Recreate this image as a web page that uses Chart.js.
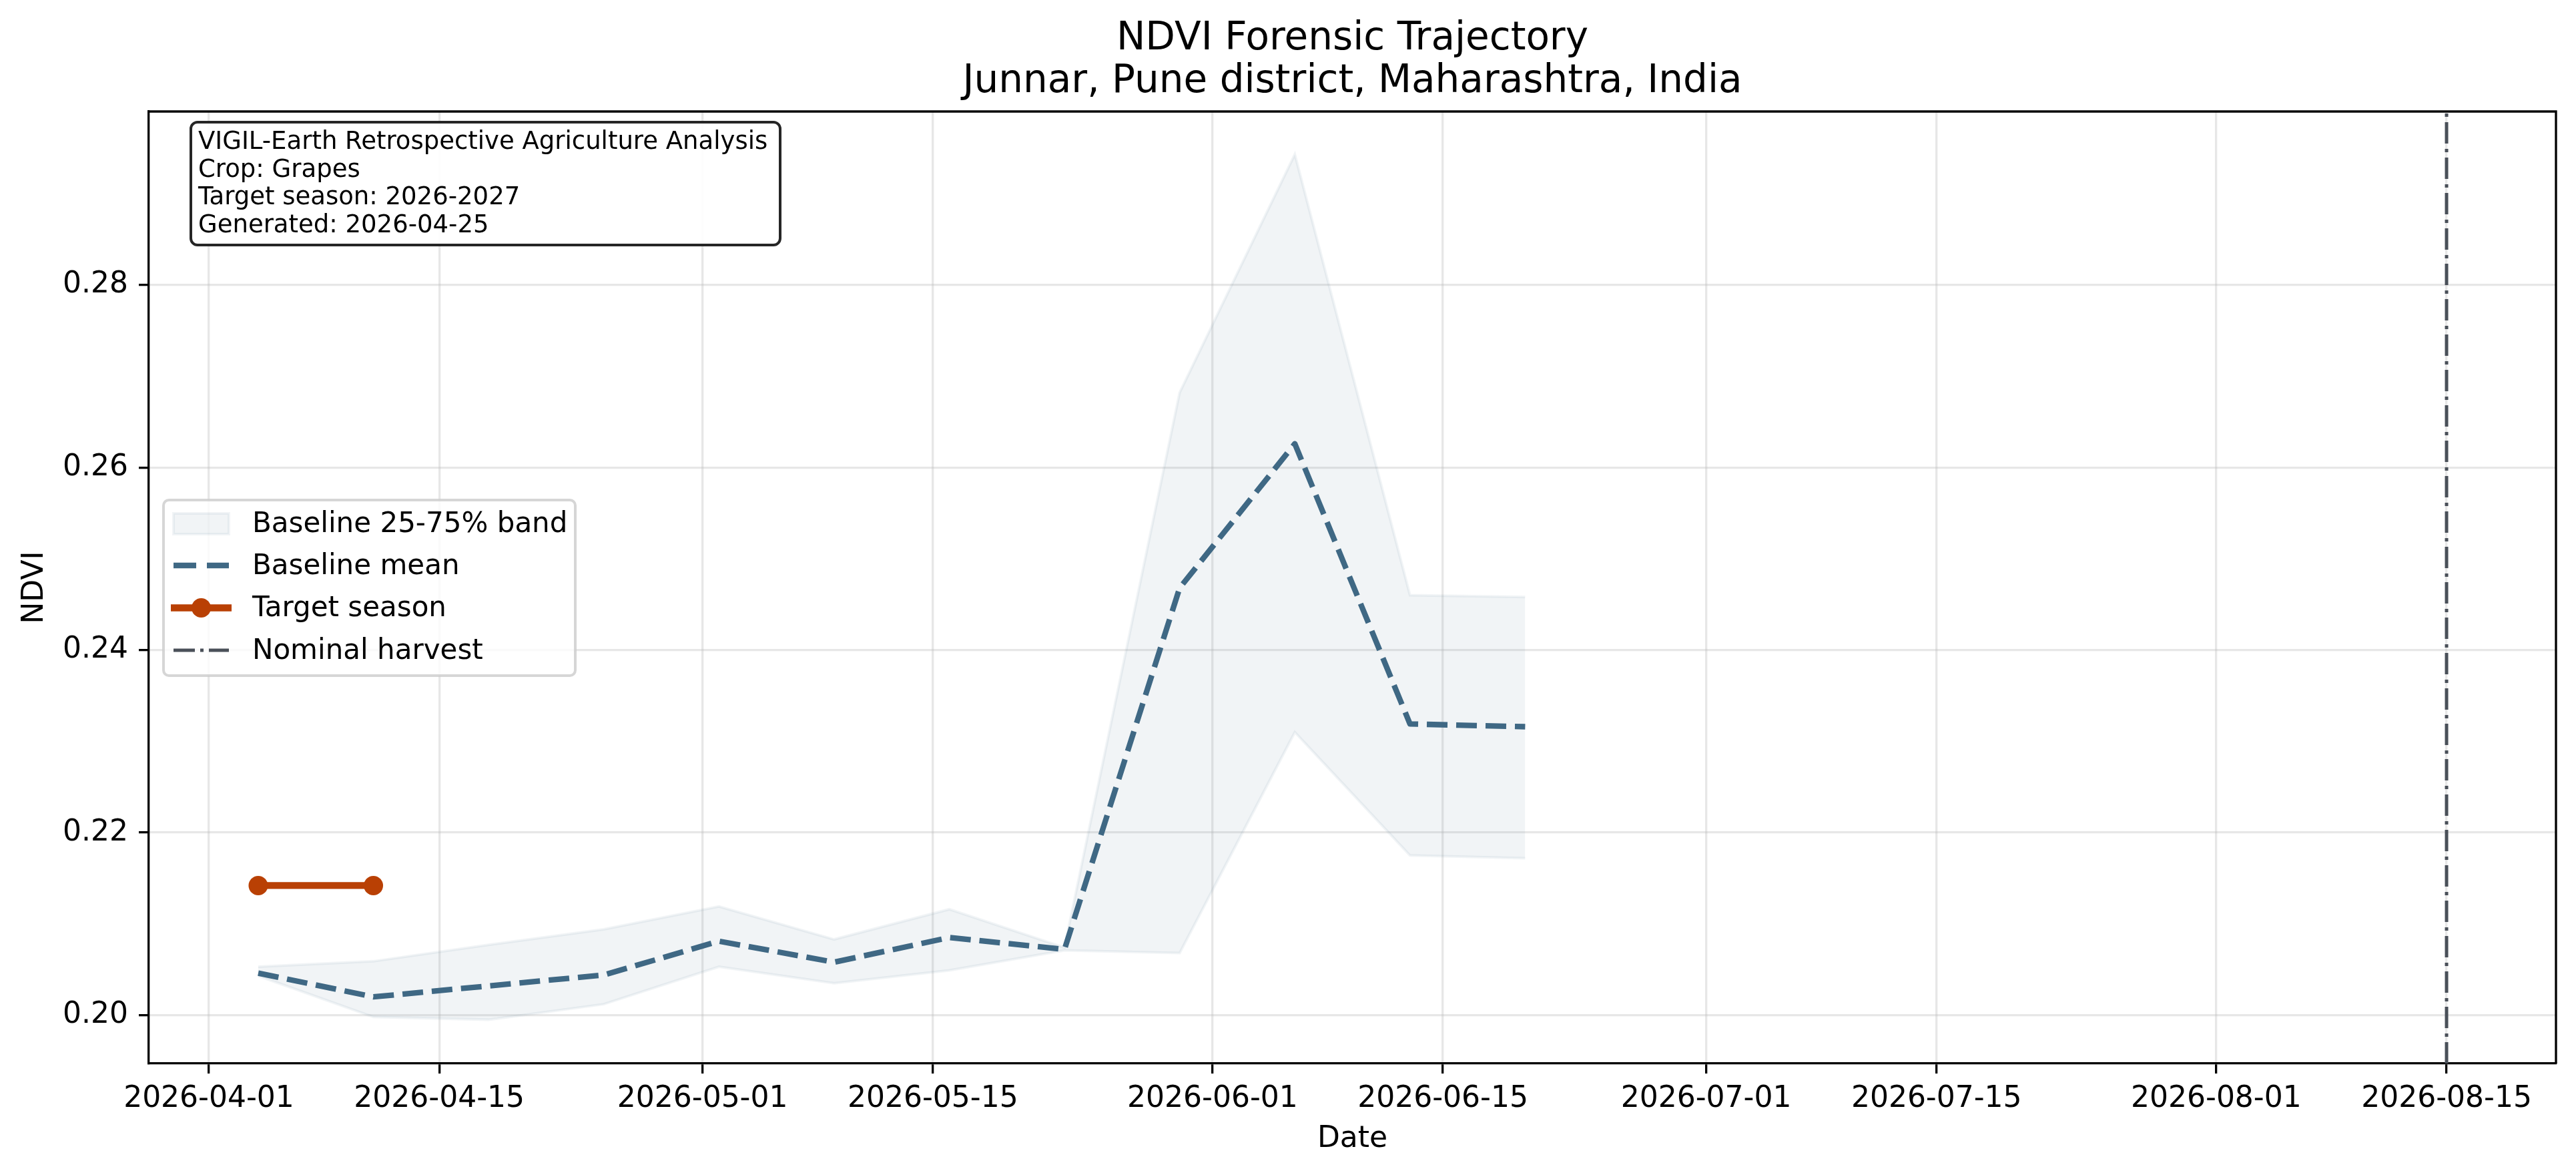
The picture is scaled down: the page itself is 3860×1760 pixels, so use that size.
<!DOCTYPE html>
<html>
<head>
<meta charset="utf-8">
<title>NDVI Forensic Trajectory</title>
<script src="https://cdn.jsdelivr.net/npm/chart.js@4.4.1/dist/chart.umd.min.js"></script>
<style>
    html, body { margin: 0; padding: 0; background: #ffffff; }
    #wrap { width: 3860px; height: 1760px; }
</style>
</head>
<body>
<div id="wrap"><canvas id="ndviChart" width="3860" height="1760"></canvas></div>
<script>
// ---- data ----
const baselineDates = ["2026-04-04", "2026-04-11", "2026-04-18", "2026-04-25", "2026-05-02", "2026-05-09",
    "2026-05-16", "2026-05-23", "2026-05-30", "2026-06-06", "2026-06-13", "2026-06-20"];
const baselineMean = [0.2046, 0.2020, 0.2032, 0.2044, 0.2081, 0.2058, 0.2085, 0.2072, 0.2468, 0.2626, 0.2319, 0.2316];
const baselineP75 = [0.2053, 0.2059, 0.2077, 0.2094, 0.2119, 0.2083, 0.2116, 0.2074, 0.2682, 0.2943, 0.2460, 0.2458];
const baselineP25 = [0.2043, 0.1998, 0.1995, 0.2012, 0.2053, 0.2035, 0.2049, 0.2071, 0.2068, 0.2310, 0.2175, 0.2172];

const targetDates = ["2026-04-04", "2026-04-11"];
const targetValues = [0.2142, 0.2142];

const harvestDate = "2026-08-15";

const xTickDates = ["2026-04-01", "2026-04-15", "2026-05-01", "2026-05-15", "2026-06-01",
    "2026-06-15", "2026-07-01", "2026-07-15", "2026-08-01", "2026-08-15"];
const yTickValues = [0.20, 0.22, 0.24, 0.26, 0.28];

const infoLines = ["VIGIL-Earth Retrospective Agriculture Analysis", "Crop: Grapes",
    "Target season: 2026-2027", "Generated: 2026-04-25"];
const legendLabels = ["Baseline 25-75% band", "Baseline mean", "Target season", "Nominal harvest"];

// ---- helpers ----
const DAY0 = Date.UTC(2026, 3, 1);
function dayOf(s) {
    return (Date.UTC(+s.slice(0, 4), +s.slice(5, 7) - 1, +s.slice(8, 10)) - DAY0) / 86400000;
}
const pts = (dates, vals) => dates.map((d, i) => ({ x: dayOf(d), y: vals[i] }));

const xTickDays = xTickDates.map(dayOf);
const harvestDay = dayOf(harvestDate);
const X_MIN = -3.65, X_MAX = 142.65;
const Y_MIN = 0.1947, Y_MAX = 0.2990;

const MEAN_COLOR = "#3f6884";
const TARGET_COLOR = "#b94004";
const HARVEST_COLOR = "#4a5059";
const BAND_COLOR = "rgba(61,101,128,0.07)";
const FONT = "DejaVu Sans";

Chart.defaults.font.family = FONT;
Chart.defaults.color = "#000";

// top and right spines
const framePlugin = {
    id: "frame",
    afterDatasetsDraw(chart) {
        const { ctx, chartArea: a } = chart;
        ctx.save();
        ctx.strokeStyle = "#000";
        ctx.lineWidth = 3.3;
        ctx.beginPath();
        ctx.moveTo(a.left, a.top);
        ctx.lineTo(a.right, a.top);
        ctx.lineTo(a.right, a.bottom);
        ctx.stroke();
        ctx.restore();
    }
};

function roundRect(ctx, x, y, w, h, r) {
    ctx.beginPath();
    ctx.moveTo(x + r, y);
    ctx.arcTo(x + w, y, x + w, y + h, r);
    ctx.arcTo(x + w, y + h, x, y + h, r);
    ctx.arcTo(x, y + h, x, y, r);
    ctx.arcTo(x, y, x + w, y, r);
    ctx.closePath();
}

// info box (upper left) and legend (left middle)
const overlayPlugin = {
    id: "overlay",
    afterDraw(chart) {
        const ctx = chart.ctx;
        ctx.save();

        // INFO BOX
        roundRect(ctx, 286, 183, 883, 184, 10);
        ctx.fillStyle = "rgba(255,255,255,0.9)";
        ctx.fill();
        ctx.strokeStyle = "#262626";
        ctx.lineWidth = 4;
        ctx.stroke();
        ctx.fillStyle = "#000";
        ctx.font = "37px '" + FONT + "'";
        ctx.textAlign = "left";
        ctx.textBaseline = "alphabetic";
        infoLines.forEach((line, i) => ctx.fillText(line, 297, 223 + i * 41.7));

        // LEGEND
        roundRect(ctx, 245, 749, 617, 263, 8);
        ctx.fillStyle = "rgba(255,255,255,0.8)";
        ctx.fill();
        ctx.strokeStyle = "rgba(204,204,204,0.8)";
        ctx.lineWidth = 4;
        ctx.stroke();

        const rows = [784, 847, 910.5, 974];
        const hx0 = 260, hx1 = 343;

        // band patch
        ctx.fillStyle = BAND_COLOR;
        ctx.fillRect(hx0, rows[0] - 15, hx1 - hx0, 31);
        ctx.strokeStyle = BAND_COLOR;
        ctx.lineWidth = 4;
        ctx.strokeRect(hx0, rows[0] - 15, hx1 - hx0, 31);

        // mean dashed
        ctx.strokeStyle = MEAN_COLOR;
        ctx.lineWidth = 8.3;
        ctx.setLineDash([34, 16]);
        ctx.beginPath();
        ctx.moveTo(hx0, rows[1]);
        ctx.lineTo(hx1, rows[1]);
        ctx.stroke();

        // target line + marker
        ctx.setLineDash([]);
        ctx.strokeStyle = TARGET_COLOR;
        ctx.lineWidth = 10.4;
        ctx.beginPath();
        ctx.moveTo(hx0 - 4, rows[2]);
        ctx.lineTo(hx1 + 4, rows[2]);
        ctx.stroke();
        ctx.fillStyle = TARGET_COLOR;
        ctx.beginPath();
        ctx.arc((hx0 + hx1) / 2, rows[2], 14.5, 0, Math.PI * 2);
        ctx.fill();

        // harvest dash-dot
        ctx.strokeStyle = HARVEST_COLOR;
        ctx.lineWidth = 5;
        ctx.setLineDash([32, 8, 5, 8]);
        ctx.beginPath();
        ctx.moveTo(hx0, rows[3]);
        ctx.lineTo(hx1, rows[3]);
        ctx.stroke();
        ctx.setLineDash([]);

        ctx.fillStyle = "#000";
        ctx.font = "42px '" + FONT + "'";
        ctx.textBaseline = "middle";
        legendLabels.forEach((lab, i) => ctx.fillText(lab, 378, rows[i] + 2));

        ctx.restore();
    }
};

const ctx = document.getElementById("ndviChart");

new Chart(ctx, {
    type: "line",
    data: {
        datasets: [
            {
                label: "Baseline 25%",
                data: pts(baselineDates, baselineP25),
                borderColor: BAND_COLOR,
                borderWidth: 4,
                pointRadius: 0,
                fill: false,
                order: 4
            },
            {
                label: legendLabels[0],
                data: pts(baselineDates, baselineP75),
                borderColor: BAND_COLOR,
                backgroundColor: BAND_COLOR,
                borderWidth: 4,
                pointRadius: 0,
                fill: "-1",
                order: 3
            },
            {
                label: legendLabels[1],
                data: pts(baselineDates, baselineMean),
                borderColor: MEAN_COLOR,
                borderWidth: 8.3,
                borderDash: [31, 13],
                borderJoinStyle: "round",
                pointRadius: 0,
                fill: false,
                order: 1
            },
            {
                label: legendLabels[2],
                data: pts(targetDates, targetValues),
                borderColor: TARGET_COLOR,
                backgroundColor: TARGET_COLOR,
                borderWidth: 10.4,
                pointRadius: 14.5,
                pointBorderWidth: 0,
                pointBackgroundColor: TARGET_COLOR,
                fill: false,
                order: 0
            },
            {
                label: legendLabels[3],
                data: [{ x: harvestDay, y: Y_MIN }, { x: harvestDay, y: Y_MAX }],
                borderColor: HARVEST_COLOR,
                borderWidth: 5,
                borderDash: [32, 8, 5, 8],
                pointRadius: 0,
                fill: false,
                order: 2
            }
        ]
    },
    options: {
        responsive: false,
        animation: false,
        devicePixelRatio: 1,
        layout: { padding: { left: 0, right: 30, top: 0, bottom: 0 } },
        plugins: {
            legend: { display: false },
            tooltip: { enabled: false },
            title: {
                display: true,
                fullSize: false,
                text: ["NDVI Forensic Trajectory", "Junnar, Pune district, Maharashtra, India"],
                color: "#000",
                font: { family: FONT, size: 58, weight: "normal", lineHeight: 1.1 },
                padding: { top: 27, bottom: 12.4 }
            }
        },
        scales: {
            x: {
                type: "linear",
                min: X_MIN,
                max: X_MAX,
                afterBuildTicks: scale => { scale.ticks = xTickDays.map(v => ({ value: v })); },
                afterFit: scale => { scale.height = 167; },
                ticks: {
                    autoSkip: false,
                    maxRotation: 0,
                    padding: 12,
                    color: "#000",
                    font: { family: FONT, size: 44 },
                    callback: value => xTickDates[xTickDays.indexOf(value)] || ""
                },
                grid: {
                    color: "rgba(176,176,176,0.3)",
                    lineWidth: 3.3,
                    drawTicks: true,
                    tickLength: 15,
                    tickColor: "#000",
                    tickWidth: 3.3
                },
                border: { display: true, color: "#000", width: 3.3 },
                title: {
                    display: true,
                    text: "Date",
                    color: "#000",
                    font: { family: FONT, size: 44, lineHeight: 1.2 },
                    padding: { top: 0, bottom: 27 }
                }
            },
            y: {
                type: "linear",
                min: Y_MIN,
                max: Y_MAX,
                afterBuildTicks: scale => { scale.ticks = yTickValues.map(v => ({ value: v })); },
                afterFit: scale => { scale.width = 223; },
                ticks: {
                    padding: 16,
                    color: "#000",
                    font: { family: FONT, size: 44 },
                    callback: value => value.toFixed(2)
                },
                grid: {
                    color: "rgba(176,176,176,0.3)",
                    lineWidth: 3.3,
                    drawTicks: true,
                    tickLength: 15,
                    tickColor: "#000",
                    tickWidth: 3.3
                },
                border: { display: true, color: "#000", width: 3.3 },
                title: {
                    display: true,
                    text: "NDVI",
                    color: "#000",
                    font: { family: FONT, size: 44, lineHeight: 1.2 },
                    padding: { top: 26, bottom: 0 }
                }
            }
        }
    },
    plugins: [framePlugin, overlayPlugin]
});
</script>
</body>
</html>
